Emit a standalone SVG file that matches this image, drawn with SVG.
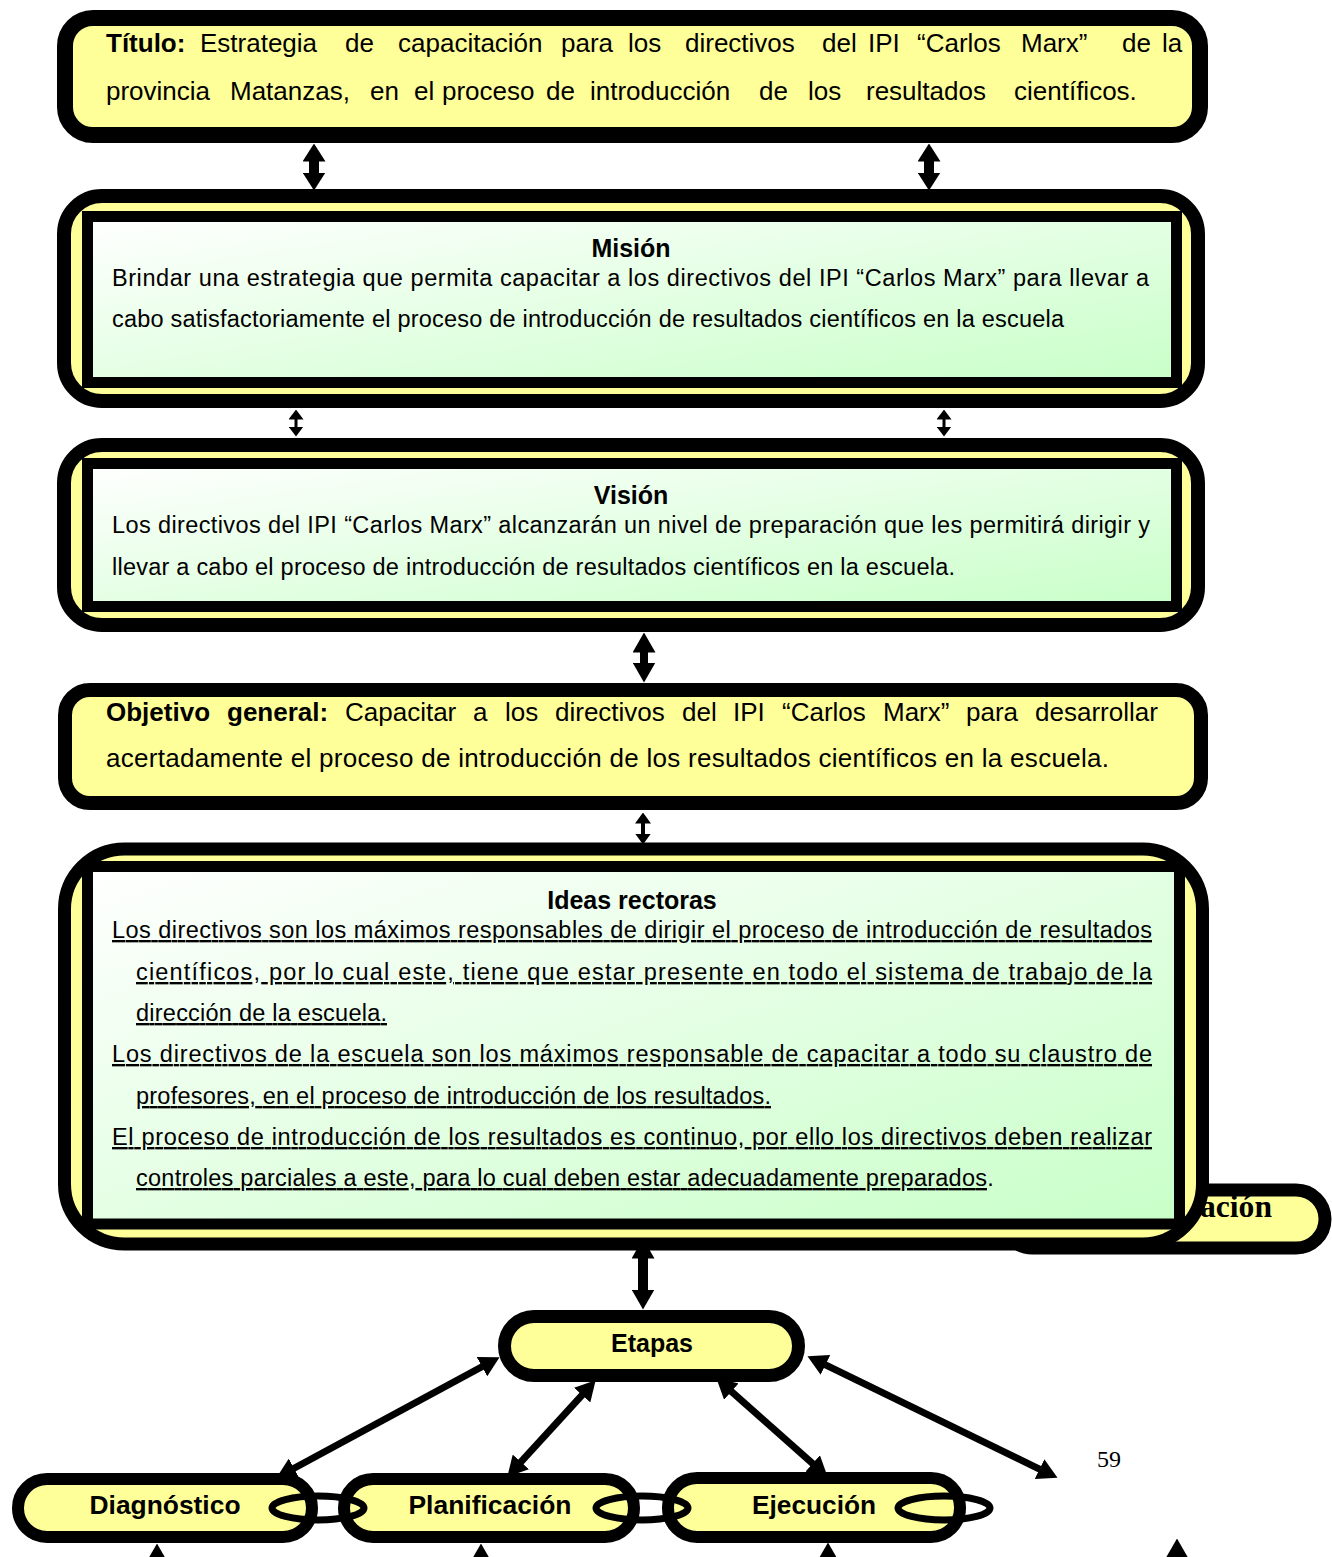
<svg xmlns="http://www.w3.org/2000/svg" width="1332" height="1557" viewBox="0 0 1332 1557">
<defs>
<linearGradient id="grn" x1="0" y1="0" x2="1" y2="1">
<stop offset="0" stop-color="#FFFFFF"/>
<stop offset="1" stop-color="#C8FFC8"/>
</linearGradient>
<marker id="mA" viewBox="0 -11.5 18 23" markerWidth="18" markerHeight="23" refX="0.5" refY="0" orient="auto-start-reverse" markerUnits="userSpaceOnUse"><path d="M0,-11.5 L18,0 L0,11.5 z"/></marker>
<marker id="mB" viewBox="0 -7.5 10 15" markerWidth="10" markerHeight="15" refX="0.5" refY="0" orient="auto-start-reverse" markerUnits="userSpaceOnUse"><path d="M0,-7.5 L10,0 L0,7.5 z"/></marker>
<marker id="mC" viewBox="0 -11.5 20 23" markerWidth="20" markerHeight="23" refX="0.5" refY="0" orient="auto-start-reverse" markerUnits="userSpaceOnUse"><path d="M0,-11.5 L20,0 L0,11.5 z"/></marker>
<marker id="mD" viewBox="0 -8 11 16" markerWidth="11" markerHeight="16" refX="0.5" refY="0" orient="auto-start-reverse" markerUnits="userSpaceOnUse"><path d="M0,-8 L11,0 L0,8 z"/></marker>
<marker id="mE" viewBox="0 -11 20 22" markerWidth="20" markerHeight="22" refX="0.5" refY="0" orient="auto-start-reverse" markerUnits="userSpaceOnUse"><path d="M0,-11 L20,0 L0,11 z"/></marker>
</defs>
<style>
.yel{fill:#FFFF99;stroke:#000}
.inner{fill:url(#grn);stroke:#000;stroke-width:11}
.t{font-family:"Liberation Sans",Arial,sans-serif;fill:#000}
.b{font-weight:bold}
.u{text-decoration:underline}
.c{stroke:#000;fill:none}
.chain{fill:none;stroke:#000;stroke-width:7}
</style>
<rect width="1332" height="1557" fill="#FFFFFF"/>

<g id="titulo">
<rect class="yel" x="65" y="18" width="1135" height="117" rx="28" stroke-width="16"/>
<text class="t" y="52" font-size="26"><tspan class="b" x="106">Título:</tspan><tspan x="200">Estrategia</tspan><tspan x="345">de</tspan><tspan x="398">capacitación</tspan><tspan x="561">para</tspan><tspan x="628">los</tspan><tspan x="685">directivos</tspan><tspan x="822">del</tspan><tspan x="868">IPI</tspan><tspan x="917">“Carlos</tspan><tspan x="1021">Marx”</tspan><tspan x="1122">de</tspan><tspan x="1162">la</tspan></text>
<text class="t" y="100" font-size="26"><tspan x="106">provincia</tspan><tspan x="230">Matanzas,</tspan><tspan x="370">en</tspan><tspan x="414">el</tspan><tspan x="442">proceso</tspan><tspan x="546">de</tspan><tspan x="590">introducción</tspan><tspan x="759">de</tspan><tspan x="808">los</tspan><tspan x="866">resultados</tspan><tspan x="1014">científicos.</tspan></text>
</g>

<g id="mision">
<rect class="yel" x="64" y="196" width="1134" height="205" rx="38" stroke-width="14"/>
<rect class="inner" x="87.5" y="216.5" width="1089" height="166"/>
<text class="t b" x="631" y="257" font-size="25" text-anchor="middle">Misión</text>
<text class="t" x="112" y="286" font-size="23.5" textLength="1037" lengthAdjust="spacing">Brindar una estrategia que permita capacitar a los directivos del IPI “Carlos Marx” para llevar a</text>
<text class="t" x="112" y="327" font-size="23.5" textLength="952" lengthAdjust="spacing">cabo satisfactoriamente el proceso de introducción de resultados científicos en la escuela</text>
</g>

<g id="vision">
<rect class="yel" x="64" y="445" width="1134" height="180" rx="38" stroke-width="14"/>
<rect class="inner" x="87.5" y="463.5" width="1089" height="143"/>
<text class="t b" x="631" y="504" font-size="25" text-anchor="middle">Visión</text>
<text class="t" x="112" y="533" font-size="23.5" textLength="1038" lengthAdjust="spacing">Los directivos del IPI “Carlos Marx” alcanzarán un nivel de preparación que les permitirá dirigir y</text>
<text class="t" x="112" y="575" font-size="23.5" textLength="843" lengthAdjust="spacing">llevar a cabo el proceso de introducción de resultados científicos en la escuela.</text>
</g>

<g id="objetivo">
<rect class="yel" x="65" y="690" width="1136" height="113" rx="25" stroke-width="14"/>
<text class="t" y="721" font-size="26"><tspan class="b" x="106">Objetivo</tspan><tspan class="b" x="227">general:</tspan><tspan x="345">Capacitar</tspan><tspan x="473">a</tspan><tspan x="505">los</tspan><tspan x="555">directivos</tspan><tspan x="682">del</tspan><tspan x="733">IPI</tspan><tspan x="782">“Carlos</tspan><tspan x="883">Marx”</tspan><tspan x="966">para</tspan><tspan x="1035">desarrollar</tspan></text>
<text class="t" x="106" y="767" font-size="26" textLength="1003" lengthAdjust="spacing">acertadamente el proceso de introducción de los resultados científicos en la escuela.</text>
</g>

<g id="evaluacion">
<rect class="yel" x="1003" y="1190" width="322" height="58" rx="29" stroke-width="13"/>
<text x="1200" y="1217" font-family="'Liberation Serif','Times New Roman',serif" font-weight="bold" font-size="31" textLength="72" lengthAdjust="spacingAndGlyphs">ación</text>
</g>

<g id="ideas">
<rect class="yel" x="64.5" y="849" width="1138" height="395" rx="60" stroke-width="13"/>
<rect class="inner" x="87.5" y="866.5" width="1092" height="357.5"/>
<text class="t b" x="632" y="909" font-size="25" text-anchor="middle">Ideas rectoras</text>
<text class="t u" x="112" y="938" font-size="23.5" textLength="1040" lengthAdjust="spacing">Los directivos son los máximos responsables  de dirigir el proceso de introducción de  resultados</text>
<text class="t u" x="136" y="980" font-size="23.5" textLength="1016" lengthAdjust="spacing">científicos, por lo cual este, tiene que estar presente en todo el sistema de trabajo de la</text>
<text class="t u" x="136" y="1021" font-size="23.5" textLength="251" lengthAdjust="spacing">dirección de la escuela.</text>
<text class="t u" x="112" y="1062" font-size="23.5" textLength="1040" lengthAdjust="spacing">Los directivos de la escuela son los máximos responsable de capacitar a todo su claustro de</text>
<text class="t u" x="136" y="1104" font-size="23.5" textLength="635" lengthAdjust="spacing">profesores, en el proceso de introducción de los resultados.</text>
<text class="t u" x="112" y="1145" font-size="23.5" textLength="1040" lengthAdjust="spacing">El proceso de introducción de los resultados es continuo, por ello los directivos deben realizar</text>
<text class="t" x="136" y="1186" font-size="23.5"><tspan class="u" textLength="851" lengthAdjust="spacing">controles parciales a este, para lo cual deben estar adecuadamente preparados</tspan>.</text>
</g>

<g id="etapas">
<rect class="yel" x="504.5" y="1316.5" width="294" height="59" rx="29.5" stroke-width="13"/>
<text class="t b" x="652" y="1352" font-size="25" text-anchor="middle">Etapas</text>
</g>

<g id="diagnostico">
<rect class="yel" x="18" y="1479" width="294" height="58" rx="29" stroke-width="12"/>
<text class="t b" x="165" y="1514" font-size="26" text-anchor="middle" textLength="151" lengthAdjust="spacingAndGlyphs">Diagnóstico</text>
</g>

<g id="planificacion">
<rect class="yel" x="344" y="1479" width="290" height="58" rx="29" stroke-width="12"/>
<text class="t b" x="490" y="1514" font-size="26" text-anchor="middle" textLength="163" lengthAdjust="spacingAndGlyphs">Planificación</text>
</g>

<g id="ejecucion">
<rect class="yel" x="668" y="1478" width="292" height="59" rx="29" stroke-width="12"/>
<text class="t b" x="814" y="1514" font-size="26" text-anchor="middle" textLength="124" lengthAdjust="spacingAndGlyphs">Ejecución</text>
</g>

<g id="eslabones">
<ellipse class="chain" cx="318" cy="1508" rx="46" ry="12"/>
<ellipse class="chain" cx="642" cy="1508" rx="46" ry="12"/>
<ellipse class="chain" cx="944" cy="1508" rx="46" ry="12"/>
</g>

<g id="pagina">
<text x="1097" y="1467" font-family="'Liberation Serif','Times New Roman',serif" font-size="24">59</text>
</g>

<g id="connectors">
<line class="c" x1="314" y1="161" x2="314" y2="173" stroke-width="10" marker-start="url(#mA)" marker-end="url(#mA)"/>
<line class="c" x1="929" y1="161" x2="929" y2="173" stroke-width="10" marker-start="url(#mA)" marker-end="url(#mA)"/>
<line class="c" x1="296" y1="419" x2="296" y2="427" stroke-width="3" marker-start="url(#mB)" marker-end="url(#mB)"/>
<line class="c" x1="944" y1="419" x2="944" y2="427" stroke-width="3" marker-start="url(#mB)" marker-end="url(#mB)"/>
<line class="c" x1="644" y1="652" x2="644" y2="663" stroke-width="8" marker-start="url(#mC)" marker-end="url(#mC)"/>
<line class="c" x1="643" y1="823" x2="643" y2="834" stroke-width="4" marker-start="url(#mD)" marker-end="url(#mD)"/>
<line class="c" x1="643" y1="1258" x2="643" y2="1290" stroke-width="10" marker-start="url(#mC)" marker-end="url(#mC)"/>
<line class="c" x1="293.6" y1="1468.5" x2="482.4" y2="1366.5" stroke-width="7" marker-start="url(#mE)" marker-end="url(#mE)"/>
<line class="c" x1="520.5" y1="1462.3" x2="582.5" y2="1394.7" stroke-width="7" marker-start="url(#mE)" marker-end="url(#mE)"/>
<line class="c" x1="813" y1="1463.8" x2="731" y2="1391.2" stroke-width="7" marker-start="url(#mE)" marker-end="url(#mE)"/>
<line class="c" x1="1040" y1="1469.3" x2="825" y2="1364.7" stroke-width="7" marker-start="url(#mE)" marker-end="url(#mE)"/>
<line class="c" x1="157" y1="1600" x2="157" y2="1563" stroke-width="7" marker-end="url(#mC)"/>
<line class="c" x1="481" y1="1600" x2="481" y2="1563" stroke-width="7" marker-end="url(#mC)"/>
<line class="c" x1="828" y1="1600" x2="828" y2="1562" stroke-width="7" marker-end="url(#mC)"/>
<line class="c" x1="1177" y1="1600" x2="1177" y2="1558" stroke-width="7" marker-end="url(#mC)"/>
</g>
</svg>
